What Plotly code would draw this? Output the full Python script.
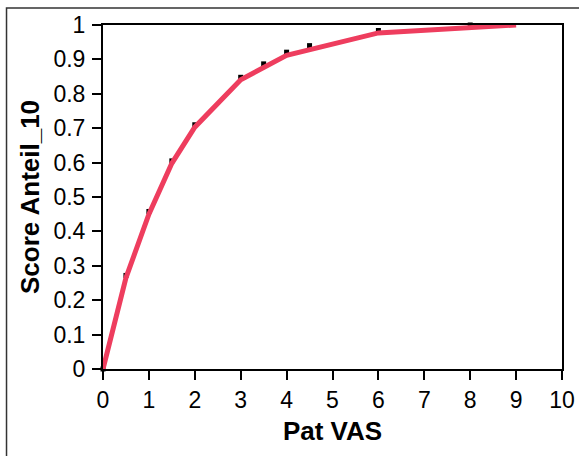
import plotly.graph_objects as go

# Data points (markers)
pat_vas = [0, 0.5, 1, 1.5, 2, 3, 3.5, 4, 4.5, 6, 8, 9]
score_anteil = [0.0, 0.272, 0.458, 0.605, 0.71, 0.848, 0.887, 0.921, 0.94, 0.984, 1.0, 1.003]

# Curve (red line)
curve_x = [0, 0.5, 1, 1.5, 2, 3, 4, 6, 9]
curve_y = [0.0, 0.265, 0.45, 0.598, 0.703, 0.841, 0.912, 0.977, 1.0]

x_ticks = list(range(0, 11))
y_ticks = [0, 0.1, 0.2, 0.3, 0.4, 0.5, 0.6, 0.7, 0.8, 0.9, 1]

FONT = "Liberation Sans, Arial, sans-serif"

fig = go.Figure()
fig.add_trace(go.Scatter(
    x=pat_vas, y=score_anteil, mode="markers",
    marker=dict(symbol="square", size=5, color="black"),
    cliponaxis=False, showlegend=False, hoverinfo="skip"))
fig.add_trace(go.Scatter(
    x=curve_x, y=curve_y, mode="lines",
    line=dict(color="#EE3D5E", width=5),
    cliponaxis=False, showlegend=False))

axis_common = dict(
    showgrid=False, zeroline=False, showline=True, linecolor="black", linewidth=2,
    mirror=True, ticks="outside", ticklen=9, tickwidth=2, tickcolor="black",
    automargin=False,
    tickfont=dict(family=FONT, size=23, color="black"),
)

fig.update_layout(
    width=579, height=456,
    margin=dict(l=103, r=17, t=25, b=87),
    paper_bgcolor="white", plot_bgcolor="white",
    xaxis=dict(range=[0, 10], tickvals=x_ticks, ticktext=[str(v) for v in x_ticks],
               title=dict(text="<b>Pat VAS</b>", standoff=10,
                          font=dict(family=FONT, size=26, color="black")),
               **axis_common),
    yaxis=dict(range=[0, 1], tickvals=y_ticks, ticktext=["0", "0.1", "0.2", "0.3", "0.4", "0.5", "0.6", "0.7", "0.8", "0.9", "1"],
               ticklabelstandoff=2,
               title=dict(text="<b>Score Anteil_10</b>", standoff=6,
                          font=dict(family=FONT, size=26, color="black")),
               **axis_common),
    shapes=[dict(type="rect", xref="paper", yref="paper",
                 x0=-0.2102, y0=-0.35, x1=1.2, y1=1.0495,
                 line=dict(color="#333333", width=1.5), layer="below")],
)

fig.write_html("out.html")
